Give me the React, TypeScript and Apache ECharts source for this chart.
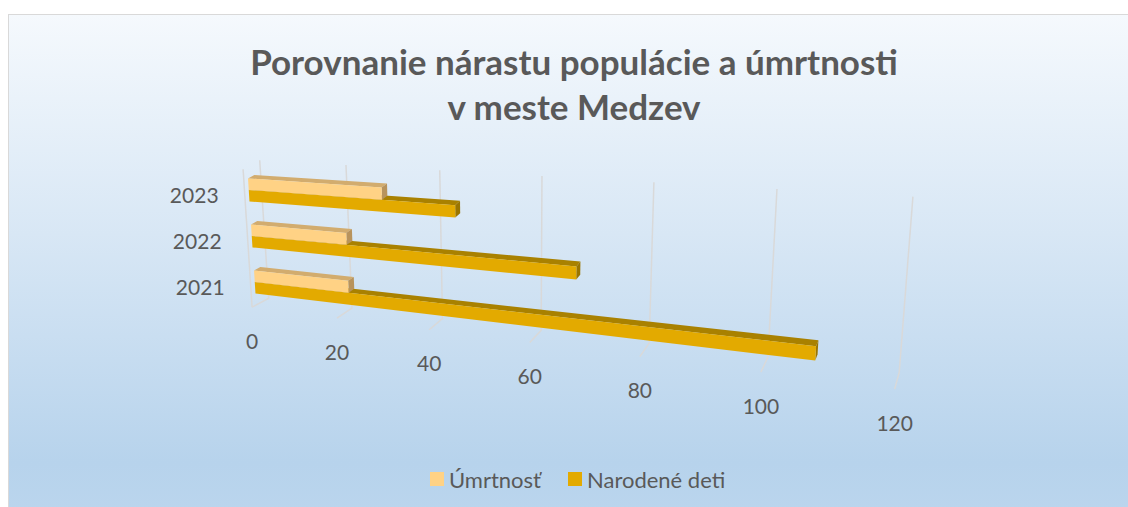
import React, { useEffect, useRef } from 'react';
import * as echarts from 'echarts';

// ---- data ----
const categories = ['2021', '2022', '2023'];
const umrtnost = [22, 22, 30];
const narodeneDeti = [108, 68, 45];
const valueTicks = [0, 20, 40, 60, 80, 100, 120];
const seriesNames = ['Úmrtnosť', 'Narodené deti'];
const titleLines = ['Porovnanie nárastu populácie a úmrtnosti', 'v meste Medzev'];

// ---- layout / style ----
const VMAX = 120;
const GRID = { left: 0, top: 0, width: 1000, height: 480 };
const BAR_DEPTH_FRONT = 0.75;
const BAR_DEPTH_BACK = 0.37;
const BAR_FRACTION = 0.5;
const FONT = 'Lato, "Open Sans", sans-serif';
const TEXT_COLOR = '#595959';
const GRID_COLOR = '#D9D9D9';
const COLORS = {
  umrtnost: { front: '#FFD285', top: '#D2AC6E', end: '#B8935C' },
  narodene: { front: '#E3AA00', top: '#A98100', end: '#9A7500' },
};

// perspective projection of (value, height 0..1, depth 0 = back wall .. 1 = front of floor)
function proj(v: number, h: number, d: number): number[] {
  const D = 1 - 0.001992 * v;
  const nx = (3.4628 + 0.1622 * h + 0.1097 * d) * v + 268.7 - 9.0 * h - 16.6 * d;
  const ny = (-0.1225 + 0.0344 * h + 0.03 * d) * v + 298.2 - 138.0 * h + 9.0 * d;
  return [nx / D, ny / D];
}

function toModel(api: any, value: number, catIdx: number) {
  const p = api.coord([value, catIdx]);
  const v = ((p[0] - GRID.left) / GRID.width) * VMAX;
  const h = (GRID.top + GRID.height - p[1]) / GRID.height;
  return { v, h };
}

function barRender(upper: boolean, colors: { front: string; top: string; end: string }) {
  return (params: any, api: any) => {
    const val = api.value(0);
    const idx = api.value(1);
    const a = toModel(api, 0, idx);
    const b = toModel(api, val, idx);
    const band = api.size([0, 1])[1] / GRID.height;
    const half = (band * BAR_FRACTION) / 2;
    const h0 = upper ? a.h : a.h - half;
    const h1 = upper ? a.h + half : a.h;
    const v0 = a.v;
    const v1 = b.v;
    const df = BAR_DEPTH_FRONT;
    const db = BAR_DEPTH_BACK;
    return {
      type: 'group',
      children: [
        {
          type: 'polygon',
          shape: { points: [proj(v0, h1, df), proj(v1, h1, df), proj(v1, h1, db), proj(v0, h1, db)] },
          style: { fill: colors.top },
        },
        {
          type: 'polygon',
          shape: { points: [proj(v1, h0, df), proj(v1, h0, db), proj(v1, h1, db), proj(v1, h1, df)] },
          style: { fill: colors.end },
        },
        {
          type: 'polygon',
          shape: { points: [proj(v0, h0, df), proj(v1, h0, df), proj(v1, h1, df), proj(v0, h1, df)] },
          style: { fill: colors.front },
        },
      ],
    };
  };
}

export default function App() {
  const ref = useRef<HTMLDivElement>(null);

  useEffect(() => {
    if (!ref.current) return;
    const chart = echarts.init(ref.current, null, { renderer: 'svg' });

    const option: any = {
      animation: false,
      backgroundColor: 'transparent',
      graphic: [
        {
          type: 'text',
          x: 574,
          y: 61,
          style: {
            text: titleLines[0],
            textAlign: 'center',
            textVerticalAlign: 'middle',
            font: `bold 35px ${FONT}`,
            fill: TEXT_COLOR,
          },
        },
        {
          type: 'text',
          x: 574,
          y: 106,
          style: {
            text: titleLines[1],
            textAlign: 'center',
            textVerticalAlign: 'middle',
            font: `bold 35px ${FONT}`,
            fill: TEXT_COLOR,
          },
        },
      ],
      legend: {
        data: seriesNames,
        left: 430,
        top: 468,
        padding: 0,
        icon: 'rect',
        itemWidth: 14,
        itemHeight: 14,
        itemGap: 27,
        textStyle: { fontFamily: FONT, fontSize: 22, color: TEXT_COLOR },
      },
      grid: { ...GRID, containLabel: false, show: false },
      xAxis: { type: 'value', min: 0, max: VMAX, interval: 20, show: false },
      yAxis: { type: 'category', data: categories, show: false },
      series: [
        {
          type: 'custom',
          name: 'gridlines',
          silent: true,
          clip: false,
          data: valueTicks.map((v) => [v, 0]),
          encode: { x: 0, y: 1 },
          renderItem: (params: any, api: any) => {
            const m = toModel(api, api.value(0), 0);
            const v = m.v;
            const children: any[] = [
              {
                type: 'polyline',
                shape: { points: [proj(v, 1, 0), proj(v, 0, 0), proj(v, 0, 1)] },
                style: { stroke: GRID_COLOR, lineWidth: 1.5, fill: null },
              },
            ];
            if (params.dataIndex === 0) {
              const p1 = proj(v, 0, 1);
              const p2 = proj(v, 1, 1);
              children.push({
                type: 'line',
                shape: { x1: p1[0], y1: p1[1], x2: p2[0], y2: p2[1] },
                style: { stroke: GRID_COLOR, lineWidth: 1.5 },
              });
            }
            return { type: 'group', children };
          },
        },
        {
          type: 'custom',
          name: 'valueLabels',
          silent: true,
          clip: false,
          data: valueTicks.map((v) => [v, 0]),
          encode: { x: 0, y: 1 },
          renderItem: (params: any, api: any) => {
            const m = toModel(api, api.value(0), 0);
            const p = proj(m.v, 0, 1);
            return {
              type: 'text',
              x: p[0],
              y: p[1] + 33,
              style: {
                text: String(valueTicks[params.dataIndex]),
                textAlign: 'center',
                textVerticalAlign: 'middle',
                font: `21px ${FONT}`,
                fill: TEXT_COLOR,
              },
            };
          },
        },
        {
          type: 'custom',
          name: 'categoryLabels',
          silent: true,
          clip: false,
          data: categories.map((c, i) => [0, i]),
          encode: { x: 0, y: 1 },
          renderItem: (params: any, api: any) => {
            const m = toModel(api, 0, api.value(1));
            const p = proj(0, m.h, 1);
            return {
              type: 'text',
              x: p[0] - 26,
              y: p[1] + 2,
              style: {
                text: categories[params.dataIndex],
                textAlign: 'right',
                textVerticalAlign: 'middle',
                font: `21px ${FONT}`,
                fill: TEXT_COLOR,
              },
            };
          },
        },
        {
          type: 'custom',
          name: seriesNames[1],
          clip: false,
          itemStyle: { color: COLORS.narodene.front },
          data: narodeneDeti.map((v, i) => [v, i]),
          encode: { x: 0, y: 1 },
          renderItem: barRender(false, COLORS.narodene),
        },
        {
          type: 'custom',
          name: seriesNames[0],
          clip: false,
          itemStyle: { color: COLORS.umrtnost.front },
          data: umrtnost.map((v, i) => [v, i]),
          encode: { x: 0, y: 1 },
          renderItem: barRender(true, COLORS.umrtnost),
        },
      ],
    };

    chart.setOption(option);
    return () => chart.dispose();
  }, []);

  return (
    <div style={{ position: 'fixed', left: 0, top: 0, width: 1128, height: 507, overflow: 'hidden', background: '#ffffff' }}>
      <div
        style={{
          position: 'absolute',
          left: 8,
          top: 14,
          width: 1150,
          height: 520,
          borderLeft: '1.5px solid #D9D9D9',
          borderTop: '1.5px solid #D9D9D9',
          background: 'linear-gradient(to bottom, #F5F9FD 0%, #D8E7F5 42%, #B7D3EC 86%, #BCD6EE 100%)',
        }}
      />
      <div ref={ref} style={{ position: 'absolute', left: 0, top: 0, width: 1128, height: 507 }} />
    </div>
  );
}
